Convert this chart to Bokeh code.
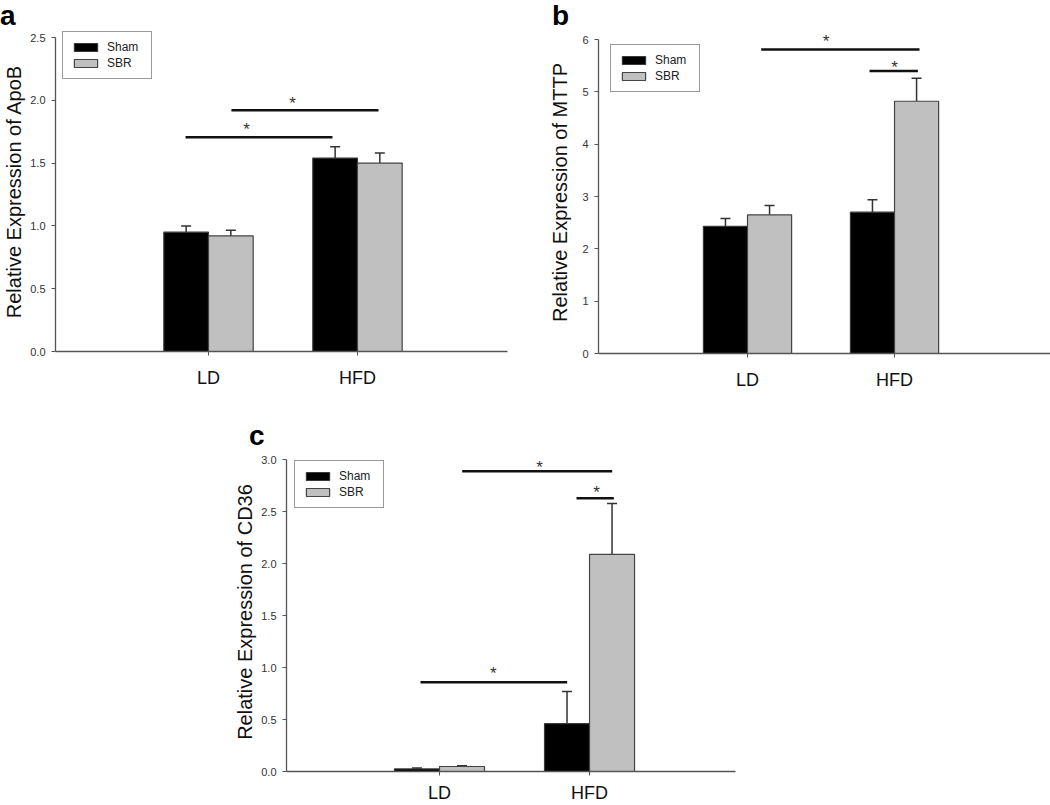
from bokeh.plotting import figure
from bokeh.models import (Range1d, FixedTicker, PrintfTickFormatter, Legend, LegendItem,
                          Whisker, TeeHead, ColumnDataSource, LabelSet, Spacer, Div)
from bokeh.layouts import column, row
from bokeh.embed import file_html
from bokeh.resources import INLINE
from bokeh.core.properties import value

FONT = "Liberation Sans"

groups = ["LD", "HFD"]
series = ["Sham", "SBR"]

# Panel a: ApoB
apob_sham = [0.95, 1.54]
apob_sham_err = [0.05, 0.09]
apob_sbr = [0.92, 1.50]
apob_sbr_err = [0.045, 0.08]
apob_ticks = [0.0, 0.5, 1.0, 1.5, 2.0, 2.5]
apob_sig_x0 = [0.846, 1.154]
apob_sig_x1 = [1.832, 2.141]
apob_sig_y = [1.706, 1.92]
apob_star_x = [1.255, 1.564]
apob_star_y = [1.80, 2.014]

# Panel b: MTTP
mttp_sham = [2.43, 2.70]
mttp_sham_err = [0.15, 0.24]
mttp_sbr = [2.65, 4.82]
mttp_sbr_err = [0.18, 0.44]
mttp_ticks = [0, 1, 2, 3, 4, 5, 6]
mttp_sig_x0 = [1.093, 1.83]
mttp_sig_x1 = [2.170, 2.159]
mttp_sig_y = [5.81, 5.40]
mttp_star_x = [1.535, 2.0]
mttp_star_y = [6.04, 5.55]

# Panel c: CD36
cd36_sham = [0.025, 0.46]
cd36_sham_err = [0.008, 0.31]
cd36_sbr = [0.048, 2.09]
cd36_sbr_err = [0.008, 0.49]
cd36_ticks = [0.0, 0.5, 1.0, 1.5, 2.0, 2.5, 3.0]
cd36_sig_x0 = [1.151, 1.913, 0.873]
cd36_sig_x1 = [2.151, 2.162, 1.851]
cd36_sig_y = [2.89, 2.63, 0.86]
cd36_star_x = [1.667, 2.047, 1.358]
cd36_star_y = [2.973, 2.724, 0.983]


def letter_div(letter, width, height, left, top):
    html = ('<div style="font-family: \'Liberation Sans\', Arial, sans-serif; font-size: 28px; '
            'font-weight: bold; line-height: 31px; color: #000000; '
            f'margin-left: {left}px; margin-top: {top}px;">{letter}</div>')
    return Div(text=html, width=width, height=height, margin=(0, 0, 0, 0))


def panel(ylabel, sham, sham_err, sbr, sbr_err, ticks, fmt,
          sig_x0, sig_x1, sig_y, star_x, star_y,
          width, height, borders, xr, yr, leg_loc,
          ylabel_standoff, xlabel_standoff):
    bl, bt, br, bb = borders
    p = figure(width=width, height=height, output_backend="svg", toolbar_location=None,
               x_range=Range1d(*xr), y_range=Range1d(*yr),
               min_border_left=bl, min_border_top=bt, min_border_right=br,
               min_border_bottom=bb)
    p.outline_line_color = None
    p.xgrid.visible = False
    p.ygrid.visible = False
    p.background_fill_color = "white"
    p.border_fill_color = "white"

    centers = [i + 1 for i in range(len(groups))]
    xs_sham = [c - 0.15 for c in centers]
    xs_sbr = [c + 0.15 for c in centers]

    for xs, v, e in ((xs_sham, sham, sham_err), (xs_sbr, sbr, sbr_err)):
        src = ColumnDataSource(dict(base=xs, lower=v, upper=[a + b for a, b in zip(v, e)]))
        w = Whisker(source=src, base="base", lower="lower", upper="upper",
                    dimension="height", line_color="#333333", line_width=1.5,
                    lower_head=None,
                    upper_head=TeeHead(size=10, line_color="#333333", line_width=1.5))
        p.add_layout(w)

    r1 = p.vbar(x=xs_sham, top=sham, bottom=0, width=0.3, fill_color="#000000",
                line_color="#3a3a3a", line_width=1.2)
    r2 = p.vbar(x=xs_sbr, top=sbr, bottom=0, width=0.3, fill_color="#c0c0c0",
                line_color="#444444", line_width=1.2)

    p.segment(x0=sig_x0, x1=sig_x1, y0=sig_y, y1=sig_y, line_color="#111111", line_width=2.5)
    star_src = ColumnDataSource(dict(x=star_x, y=star_y, t=["*"] * len(star_x)))
    p.add_layout(LabelSet(x="x", y="y", text="t", source=star_src,
                          text_font=value(FONT), text_font_size="17px",
                          text_align="center", text_baseline="alphabetic", y_offset=-10,
                          text_color="#333333"))

    xa = p.xaxis[0]
    xa.ticker = FixedTicker(ticks=centers)
    xa.major_label_overrides = {c: g for c, g in zip(centers, groups)}
    xa.axis_line_color = "#555555"
    xa.axis_line_width = 1.3
    xa.major_tick_line_color = "#555555"
    xa.major_tick_out = 4
    xa.major_tick_in = 0
    xa.minor_tick_line_color = None
    xa.major_label_text_font = FONT
    xa.major_label_text_font_size = "18px"
    xa.major_label_text_color = "#111111"
    xa.major_label_standoff = xlabel_standoff

    ya = p.yaxis[0]
    ya.ticker = FixedTicker(ticks=ticks)
    ya.formatter = PrintfTickFormatter(format=fmt)
    ya.bounds = (ticks[0], ticks[-1])
    ya.axis_line_color = "#555555"
    ya.axis_line_width = 1.3
    ya.major_tick_line_color = "#555555"
    ya.major_tick_out = 4
    ya.major_tick_in = 0
    ya.minor_tick_line_color = None
    ya.major_label_text_font = FONT
    ya.major_label_text_font_size = "11px"
    ya.major_label_text_color = "#333333"
    ya.major_label_standoff = 6
    ya.axis_label = ylabel
    ya.axis_label_text_font = FONT
    ya.axis_label_text_font_size = "20px"
    ya.axis_label_text_font_style = "normal"
    ya.axis_label_text_color = "#111111"
    ya.axis_label_standoff = ylabel_standoff

    leg = Legend(items=[LegendItem(label=series[0], renderers=[r1]),
                        LegendItem(label=series[1], renderers=[r2])],
                 location=leg_loc, orientation="vertical", margin=0, padding=8,
                 spacing=2, glyph_width=29, glyph_height=10, label_height=10,
                 label_width=36, label_standoff=7, label_text_font=FONT,
                 label_text_font_size="12px",
                 label_text_color="#222222", border_line_color="#333333",
                 border_line_width=1.5, background_fill_color="white",
                 background_fill_alpha=1.0)
    p.add_layout(leg)
    return p


pa = panel("Relative Expression of ApoB", apob_sham, apob_sham_err, apob_sbr, apob_sbr_err,
           apob_ticks, "%.1f", apob_sig_x0, apob_sig_x1, apob_sig_y, apob_star_x, apob_star_y,
           width=512, height=379, borders=(55, 0, 5, 59), xr=(-0.027, 3.007), yr=(0, 2.5478),
           leg_loc=(7, 272), ylabel_standoff=2, xlabel_standoff=12)

pb = panel("Relative Expression of MTTP", mttp_sham, mttp_sham_err, mttp_sbr, mttp_sbr_err,
           mttp_ticks, "%d", mttp_sig_x0, mttp_sig_x1, mttp_sig_y, mttp_star_x, mttp_star_y,
           width=538, height=379, borders=(86, 0, 0, 57), xr=(-0.0136, 3.061), yr=(0, 6.153),
           leg_loc=(12, 261), ylabel_standoff=8, xlabel_standoff=12)

pc = panel("Relative Expression of CD36", cd36_sham, cd36_sham_err, cd36_sbr, cd36_sbr_err,
           cd36_ticks, "%.1f", cd36_sig_x0, cd36_sig_x1, cd36_sig_y, cd36_star_x, cd36_star_y,
           width=530, height=353, borders=(66, 0, 15, 32), xr=(-0.02, 2.973), yr=(0, 3.07),
           leg_loc=(8, 263), ylabel_standoff=2, xlabel_standoff=7)

la = letter_div("a", 512, 31, 0, 0)
lb = letter_div("b", 538, 31, 40, 0)
lc = letter_div("c", 530, 42, 29, 10)

layout = column(row(column(la, pa), column(lb, pb)),
                row(Spacer(width=220, height=395), column(lc, pc)))

open("out.html", "w").write(file_html(layout, INLINE))
